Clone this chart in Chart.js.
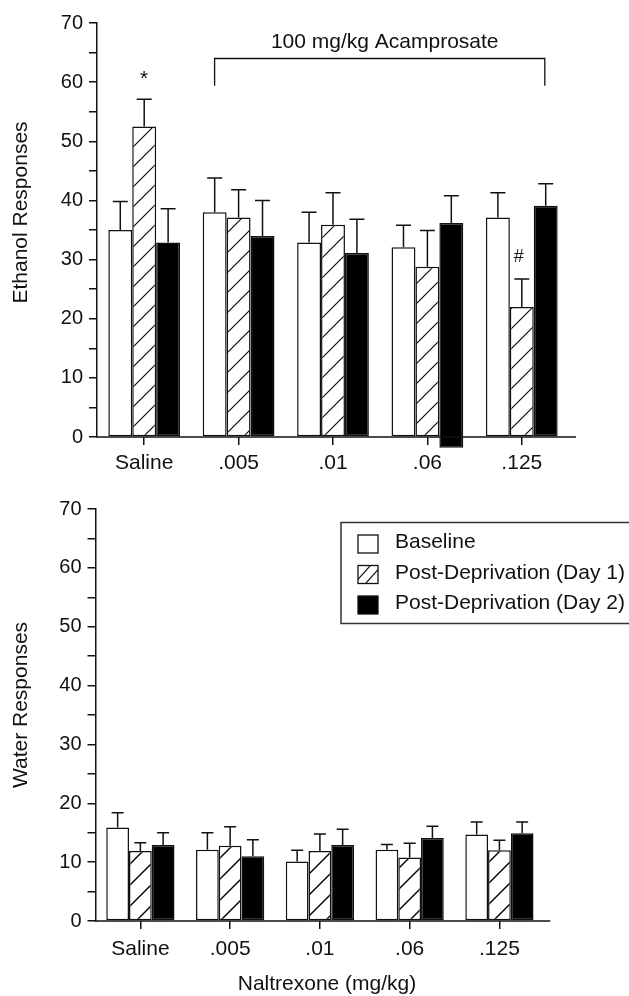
<!DOCTYPE html>
<html><head><meta charset="utf-8">
<script src="https://cdn.jsdelivr.net/npm/chart.js@4.4.1/dist/chart.umd.min.js"></script>
<style>
html,body{margin:0;padding:0;background:#fff;}
#wrap{position:relative;width:629px;height:996px;overflow:hidden;background:#fff;}
canvas{position:absolute;left:0;}
#c1{top:0}
#c2{top:490px}
</style></head><body>
<div id="wrap"><canvas id="c1" width="629" height="490"></canvas><canvas id="c2" width="629" height="506"></canvas></div>
<script>
// ---------- data ----------
const categories = ['Saline', '.005', '.01', '.06', '.125'];
const seriesNames = ['Baseline', 'Post-Deprivation (Day 1)', 'Post-Deprivation (Day 2)'];
const yTickValues = [0, 10, 20, 30, 40, 50, 60, 70];

// Ethanol responses (top panel): means and upper SEM
const ethanolBaseline    = [35.0, 38.0, 32.9, 32.1, 37.1];
const ethanolBaselineSem = [4.8, 5.8, 5.1, 3.7, 4.2];
const ethanolDay1        = [52.5, 37.1, 35.9, 28.8, 22.0];
const ethanolDay1Sem     = [4.6, 4.7, 5.4, 6.1, 4.7];
const ethanolDay2        = [32.9, 34.0, 31.1, 36.2, 39.1];
const ethanolDay2Sem     = [5.7, 6.0, 5.7, 4.6, 3.7];
const ethanolDay2Start   = [0, 0, 0, -1.8, 0];   // the .06 bar dips below the axis in the original

// Water responses (bottom panel)
const waterBaseline    = [15.9, 12.1, 10.1, 12.1, 14.7];
const waterBaselineSem = [2.5, 2.9, 1.9, 0.9, 2.1];
const waterDay1        = [11.9, 12.8, 11.9, 10.8, 12.0];
const waterDay1Sem     = [1.4, 3.2, 2.9, 2.4, 1.7];
const waterDay2        = [12.9, 11.0, 12.9, 14.1, 14.9];
const waterDay2Sem     = [2.1, 2.8, 2.7, 2.0, 1.9];

// annotations (value positions)
const bracketLabel = '100 mg/kg Acamprosate';
const bracketFrom = 1, bracketTo = 4, bracketTop = 64.0, bracketBottom = 59.4, bracketTextY = 66.8;
const ethanolMarks = [
  {text: '*', series: 1, cat: 0, y: 59.6},
  {text: '#', series: 1, cat: 4, y: 29.6}
];

// ---------- styling ----------
const FONT = "'Liberation Sans', Arial, Helvetica, sans-serif";
Chart.defaults.font.family = FONT;
Chart.defaults.color = '#111';

function hatchPattern(ctx, period, lw) {
  const c = document.createElement('canvas');
  c.width = period; c.height = period;
  const g = c.getContext('2d');
  g.fillStyle = '#fff'; g.fillRect(0, 0, period, period);
  g.strokeStyle = '#000'; g.lineWidth = lw;
  g.beginPath(); g.moveTo(-2, period + 2); g.lineTo(period + 2, -2); g.stroke();
  g.beginPath(); g.moveTo(-3, 3); g.lineTo(3, -3); g.stroke();
  g.beginPath(); g.moveTo(period - 3, period + 3); g.lineTo(period + 3, period - 3); g.stroke();
  return ctx.createPattern(c, 'repeat');
}

function vText(ctx, text, x, y) {
  ctx.save();
  ctx.translate(x, y);
  ctx.rotate(-Math.PI / 2);
  ctx.textAlign = 'center';
  ctx.textBaseline = 'middle';
  ctx.font = '21px ' + FONT;
  ctx.fillStyle = '#111';
  ctx.fillText(text, 0, 0);
  ctx.restore();
}

function errorBarPlugin(capW) {
  return {
    id: 'errbars',
    afterDatasetsDraw(chart) {
      const ctx = chart.ctx, ys = chart.scales.y;
      ctx.save();
      ctx.strokeStyle = '#111';
      ctx.lineWidth = 1.5;
      chart.data.datasets.forEach((ds, di) => {
        const meta = chart.getDatasetMeta(di);
        meta.data.forEach((el, i) => {
          const m = ds.means[i], s = ds.sem[i];
          const y0 = ys.getPixelForValue(m);
          const y1 = ys.getPixelForValue(m + s);
          ctx.beginPath();
          ctx.moveTo(el.x, y0);
          ctx.lineTo(el.x, y1);
          ctx.moveTo(el.x - capW / 2, y1);
          ctx.lineTo(el.x + capW / 2, y1);
          ctx.stroke();
        });
      });
      ctx.restore();
    }
  };
}

function axisLinePlugin(extra) {
  return {
    id: 'axisline',
    afterDraw(chart) {
      const ctx = chart.ctx, a = chart.chartArea;
      ctx.save();
      ctx.strokeStyle = '#111';
      ctx.lineWidth = 1.5;
      ctx.beginPath();
      ctx.moveTo(a.left - 0.75, a.bottom);
      ctx.lineTo(a.right + extra, a.bottom);
      ctx.stroke();
      ctx.restore();
    }
  };
}

function baseOptions(pad, yWidth, xHeight, xPad) {
  return {
    responsive: false,
    animation: false,
    events: [],
    layout: {padding: pad},
    datasets: {bar: {barPercentage: 1.0, categoryPercentage: 0.76, borderWidth: 1.5, borderColor: '#111', borderSkipped: false}},
    plugins: {legend: {display: false}, tooltip: {enabled: false}},
    scales: {
      x: {
        grid: {display: true, offset: false, drawOnChartArea: false, tickLength: 8, color: '#111', lineWidth: 1.5},
        border: {display: false},
        ticks: {font: {size: 21}, padding: xPad, color: '#111', maxRotation: 0, autoSkip: false},
        afterFit: s => { s.height = xHeight; }
      },
      y: {
        min: 0, max: 70,
        grid: {drawOnChartArea: false, tickLength: 8, color: '#111', lineWidth: 1.5},
        border: {display: true, color: '#111', width: 1.5},
        ticks: {stepSize: 5, autoSkip: false, font: {size: 20}, padding: 6, color: '#111',
                callback: v => (yTickValues.includes(v) ? String(v) : '')},
        afterFit: s => { s.width = yWidth; }
      }
    }
  };
}

// ---------- top chart ----------
const ctx1 = document.getElementById('c1').getContext('2d');
const pat1 = hatchPattern(ctx1, 20, 1.1);
new Chart(ctx1, {
  type: 'bar',
  data: {
    labels: categories,
    datasets: [
      {label: seriesNames[0], data: ethanolBaseline, backgroundColor: '#fff', means: ethanolBaseline, sem: ethanolBaselineSem},
      {label: seriesNames[1], data: ethanolDay1, backgroundColor: pat1, means: ethanolDay1, sem: ethanolDay1Sem},
      {label: seriesNames[2], data: ethanolDay2.map((v, i) => [ethanolDay2Start[i], v]), backgroundColor: '#000', clip: false,
       means: ethanolDay2, sem: ethanolDay2Sem}
    ]
  },
  options: baseOptions({left: 0, top: 23, right: 60, bottom: 0}, 97, 53, 6),
  plugins: [errorBarPlugin(15), axisLinePlugin(7), {
    id: 'annot1',
    afterDraw(chart) {
      const ctx = chart.ctx, xs = chart.scales.x, ys = chart.scales.y;
      ctx.save();
      // bracket
      const xl = xs.getPixelForValue(bracketFrom) - 24;
      const xr = xs.getPixelForValue(bracketTo) + 23;
      const yt = ys.getPixelForValue(bracketTop), yb = ys.getPixelForValue(bracketBottom);
      ctx.strokeStyle = '#111'; ctx.lineWidth = 1.3;
      ctx.beginPath();
      ctx.moveTo(xl, yb); ctx.lineTo(xl, yt); ctx.lineTo(xr, yt); ctx.lineTo(xr, yb);
      ctx.stroke();
      ctx.fillStyle = '#111';
      ctx.font = '21px ' + FONT;
      ctx.textAlign = 'center'; ctx.textBaseline = 'middle';
      ctx.fillText(bracketLabel, (xl + xr) / 2 + 5, ys.getPixelForValue(bracketTextY));
      // significance marks
      ethanolMarks.forEach(mk => {
        const el = chart.getDatasetMeta(mk.series).data[mk.cat];
        ctx.font = (mk.text === '#' ? '18px ' : '21px ') + FONT;
        ctx.textBaseline = 'alphabetic';
        ctx.fillText(mk.text, el.x - (mk.text === '#' ? 3 : 0), ys.getPixelForValue(mk.y));
      });
      // y title
      vText(ctx, 'Ethanol Responses', 21.5, 212.5);
      ctx.restore();
    }
  }]
});

// ---------- bottom chart ----------
const ctx2 = document.getElementById('c2').getContext('2d');
const pat2 = hatchPattern(ctx2, 21, 1.4);
new Chart(ctx2, {
  type: 'bar',
  data: {
    labels: categories,
    datasets: [
      {label: seriesNames[0], data: waterBaseline, backgroundColor: '#fff', means: waterBaseline, sem: waterBaselineSem},
      {label: seriesNames[1], data: waterDay1, backgroundColor: pat2, means: waterDay1, sem: waterDay1Sem},
      {label: seriesNames[2], data: waterDay2, backgroundColor: '#000', means: waterDay2, sem: waterDay2Sem}
    ]
  },
  options: baseOptions({left: 0, top: 19, right: 84.7, bottom: 0}, 95.5, 75, 8),
  plugins: [errorBarPlugin(12), axisLinePlugin(6), {
    id: 'annot2',
    afterDraw(chart) {
      const ctx = chart.ctx;
      ctx.save();
      // legend box
      ctx.strokeStyle = '#333'; ctx.lineWidth = 1.5;
      ctx.strokeRect(341, 32.5, 320, 101);
      const rows = [52.5, 83, 113.5];
      chart.data.datasets.forEach((ds, i) => {
        const cy = rows[i] + 1.5;
        const x0 = 358, y0 = cy - 9, w = 20, h = 18;
        ctx.fillStyle = i === 2 ? '#000' : '#fff';
        ctx.fillRect(x0, y0, w, h);
        if (i === 1) {
          ctx.save();
          ctx.beginPath(); ctx.rect(x0, y0, w, h); ctx.clip();
          ctx.strokeStyle = '#111'; ctx.lineWidth = 1.2;
          ctx.beginPath();
          ctx.moveTo(x0 - 2, y0 + h - 2); ctx.lineTo(x0 + w - 4, y0 - 4);
          ctx.moveTo(x0 + 4, y0 + h + 4); ctx.lineTo(x0 + w + 2, y0 + 2);
          ctx.stroke();
          ctx.restore();
        }
        ctx.strokeStyle = '#111'; ctx.lineWidth = 1.3;
        ctx.strokeRect(x0, y0, w, h);
        ctx.fillStyle = '#111';
        ctx.font = '21px ' + FONT;
        ctx.textAlign = 'left'; ctx.textBaseline = 'middle';
        ctx.fillText(ds.label, 395, rows[i]);
      });
      // titles
      vText(ctx, 'Water Responses', 21.5, 215);
      ctx.font = '21px ' + FONT;
      ctx.textAlign = 'center'; ctx.textBaseline = 'middle';
      ctx.fillStyle = '#111';
      ctx.fillText('Naltrexone (mg/kg)', 327, 494);
      ctx.restore();
    }
  }]
});
</script>
</body></html>
